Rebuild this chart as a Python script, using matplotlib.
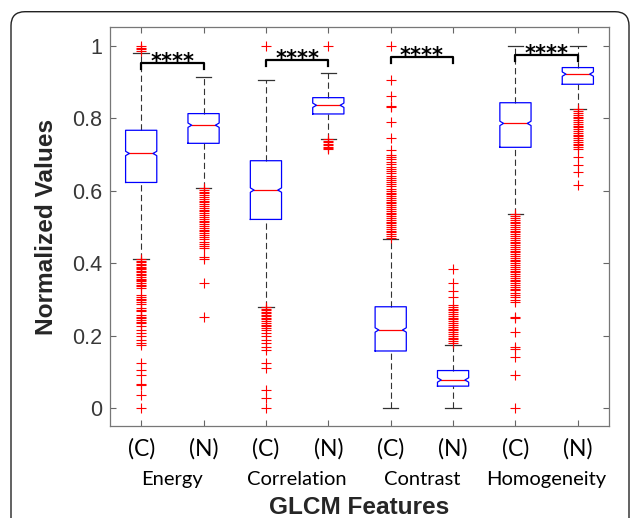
import matplotlib
matplotlib.use('Agg')
import matplotlib.pyplot as plt
from matplotlib.patches import FancyBboxPatch
from matplotlib.transforms import IdentityTransform

features = ['Energy', 'Correlation', 'Contrast', 'Homogeneity']
group_labels = ['(C)', '(N)', '(C)', '(N)', '(C)', '(N)', '(C)', '(N)']

# box statistics, order: Energy C/N, Correlation C/N, Contrast C/N, Homogeneity C/N
q1 = [0.623, 0.731, 0.521, 0.812, 0.158, 0.061, 0.720, 0.894]
med = [0.703, 0.781, 0.602, 0.836, 0.216, 0.078, 0.786, 0.922]
q3 = [0.767, 0.813, 0.683, 0.857, 0.280, 0.104, 0.843, 0.940]
whis_lo = [0.411, 0.608, 0.279, 0.743, 0.0, 0.0, 0.535, 0.825]
whis_hi = [0.979, 0.913, 0.907, 0.926, 0.467, 0.175, 1.0, 1.0]

energy_c_out = [1.0, 0.995, 0.99, 0.986,
                0.411, 0.407, 0.403, 0.399, 0.395, 0.391, 0.387, 0.383, 0.379, 0.375,
                0.371, 0.367, 0.362, 0.358, 0.354, 0.350, 0.345, 0.340, 0.336, 0.331,
                0.312, 0.307, 0.302, 0.298, 0.293, 0.289, 0.276, 0.272, 0.267, 0.258,
                0.253, 0.248, 0.244, 0.239, 0.235, 0.226, 0.216, 0.207, 0.198, 0.188,
                0.181, 0.175, 0.126, 0.106, 0.092, 0.068, 0.064, 0.037, 0.0]
energy_n_out = [0.608, 0.603, 0.598, 0.593, 0.588, 0.583, 0.578, 0.573, 0.568, 0.563,
                0.558, 0.553, 0.548, 0.543, 0.538, 0.533, 0.528, 0.523, 0.518, 0.513,
                0.508, 0.503, 0.498, 0.493, 0.488, 0.483, 0.478, 0.472, 0.466, 0.460,
                0.453, 0.447, 0.441, 0.418, 0.411, 0.346, 0.253]
corr_c_out = [1.0, 0.278, 0.274, 0.270, 0.266, 0.262, 0.258, 0.254, 0.250, 0.246,
              0.241, 0.236, 0.231, 0.226, 0.221, 0.216, 0.207, 0.198, 0.189, 0.179,
              0.170, 0.161, 0.126, 0.110, 0.050, 0.028, 0.0]
corr_n_out = [1.0, 0.742, 0.738, 0.734, 0.730, 0.726, 0.722, 0.718, 0.714]
contrast_c_out = [1.0, 0.907, 0.862, 0.834, 0.831, 0.789, 0.747, 0.712, 0.700, 0.693,
                  0.687, 0.680, 0.674, 0.667, 0.660, 0.654, 0.648, 0.642, 0.636, 0.630,
                  0.624, 0.618, 0.612, 0.606, 0.600, 0.595, 0.590, 0.585, 0.580, 0.575,
                  0.570, 0.565, 0.560, 0.555, 0.550, 0.545, 0.540, 0.535, 0.530, 0.525,
                  0.520, 0.515, 0.510, 0.505, 0.500, 0.495, 0.490, 0.485, 0.480, 0.475,
                  0.470]
contrast_n_out = [0.383, 0.345, 0.324, 0.306, 0.285, 0.280, 0.275, 0.270, 0.265, 0.260,
                  0.255, 0.250, 0.245, 0.240, 0.235, 0.230, 0.225, 0.220, 0.215, 0.210,
                  0.205, 0.200, 0.195, 0.190, 0.185, 0.180]
homog_c_out = [0.535, 0.530, 0.525, 0.520, 0.515, 0.510, 0.505, 0.500, 0.495, 0.490,
               0.485, 0.480, 0.475, 0.470, 0.465, 0.460, 0.455, 0.450, 0.445, 0.440,
               0.435, 0.430, 0.425, 0.420, 0.415, 0.410, 0.405, 0.400, 0.395, 0.390,
               0.385, 0.380, 0.375, 0.370, 0.365, 0.360, 0.355, 0.350, 0.345, 0.340,
               0.335, 0.330, 0.325, 0.318, 0.312, 0.306, 0.300, 0.294, 0.253, 0.249,
               0.211, 0.168, 0.164, 0.141, 0.092, 0.0]
homog_n_out = [0.825, 0.820, 0.815, 0.810, 0.805, 0.800, 0.795, 0.790, 0.785, 0.780,
               0.775, 0.770, 0.765, 0.760, 0.755, 0.750, 0.745, 0.740, 0.735, 0.730,
               0.725, 0.720, 0.715, 0.694, 0.671, 0.653, 0.616]
outliers = [energy_c_out, energy_n_out, corr_c_out, corr_n_out,
            contrast_c_out, contrast_n_out, homog_c_out, homog_n_out]

# significance brackets
bracket_pairs = [(1, 2), (3, 4), (5, 6), (7, 8)]
bracket_y = [0.954, 0.960, 0.970, 0.974]
star_text = ['****', '****', '****', '****']

plt.rcParams['lines.scale_dashes'] = False

fig = plt.figure(figsize=(6.3, 5.18), dpi=100)
ax = fig.add_axes([0.1746, 0.1776, 0.7921, 0.7703])

box_w = 0.5
cap_w = 0.25
notch_in = 0.06
notch_h = 0.006

for i in range(len(med)):
    x = i + 1
    hw = box_w / 2
    ax.plot([x, x], [q3[i], whis_hi[i]], color='#333333', lw=0.8, ls=(0, (4.5, 2.5)))
    ax.plot([x, x], [whis_lo[i], q1[i]], color='#333333', lw=0.8, ls=(0, (4.5, 2.5)))
    ax.plot([x - cap_w / 2, x + cap_w / 2], [whis_hi[i], whis_hi[i]], color='#333333', lw=0.9)
    ax.plot([x - cap_w / 2, x + cap_w / 2], [whis_lo[i], whis_lo[i]], color='#333333', lw=0.9)
    ax.plot([x - hw + notch_in, x + hw - notch_in], [med[i], med[i]], color='red', lw=0.9)
    bx = [x - hw, x + hw, x + hw, x + hw - notch_in, x + hw, x + hw,
          x - hw, x - hw, x - hw + notch_in, x - hw, x - hw]
    by = [q1[i], q1[i], med[i] - notch_h, med[i], med[i] + notch_h, q3[i],
          q3[i], med[i] + notch_h, med[i], med[i] - notch_h, q1[i]]
    ax.plot(bx, by, color='blue', lw=0.9)
    ax.plot([x] * len(outliers[i]), outliers[i], '+', color='red', ms=6.5, mew=0.8)

for (a, b), y, s in zip(bracket_pairs, bracket_y, star_text):
    ax.plot([a, a, b, b], [y - 0.017, y, y, y - 0.017], color='black', lw=1.6)
    ax.text((a + b) / 2, y - 0.014, s, ha='center', va='baseline',
            fontsize=15, fontweight='bold', family='DejaVu Sans')

ax.set_xlim(0.5, 8.5)
ax.set_ylim(-0.049, 1.052)
ax.set_yticks([0, 0.2, 0.4, 0.6, 0.8, 1.0])
ax.set_yticklabels(['0', '0.2', '0.4', '0.6', '0.8', '1'], family='Liberation Sans',
                   fontsize=15.5, color='#383838')
ax.set_xticks(range(1, 9))
ax.set_xticklabels(group_labels, family='Lato', fontsize=16.5, color='black')
ax.tick_params(direction='in', length=4, width=0.8, color='#666666', top=True, right=True)
ax.tick_params(axis='y', pad=5.5)
ax.tick_params(axis='x', pad=9)
for sp in ax.spines.values():
    sp.set_color('#777777')
    sp.set_linewidth(0.9)

for k, name in enumerate(features):
    ax.text(2 * k + 1.5, -0.133, name, transform=ax.get_xaxis_transform(),
            ha='center', va='center', family='Lato', fontsize=14.5)

ax.set_xlabel('GLCM Features', family='Liberation Sans', fontsize=17.6,
              fontweight='bold', color='#262626', va='baseline')
ax.xaxis.set_label_coords(0.5, -0.221)
ax.set_ylabel('Normalized Values', family='Liberation Sans', fontsize=17.6,
              fontweight='bold', color='#262626', va='baseline')
ax.yaxis.set_label_coords(-0.1134, 0.5)

frame = FancyBboxPatch((11, -40), 618, 546.3, boxstyle='round,pad=0,rounding_size=14',
                       transform=IdentityTransform(), fill=False, edgecolor='#222222',
                       lw=1.0, clip_on=False)
fig.patches.append(frame)

fig.savefig('out.png', dpi=100)
